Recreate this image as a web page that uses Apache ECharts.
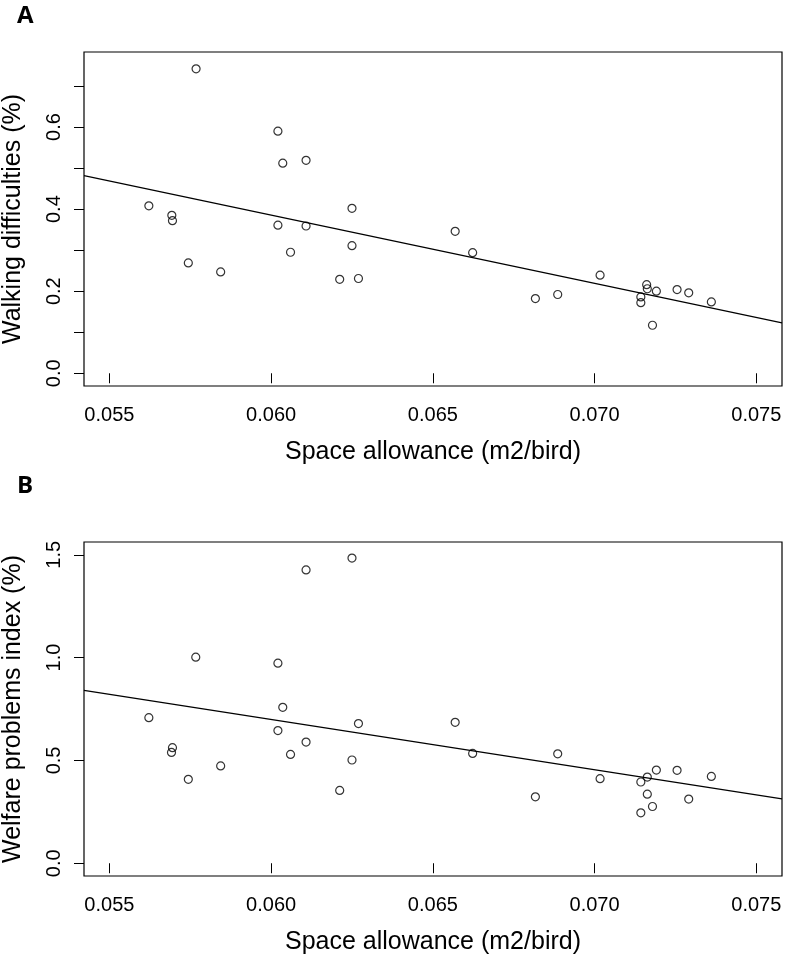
<!DOCTYPE html>
<html>
<head>
<meta charset="utf-8">
<script src="https://cdn.jsdelivr.net/npm/echarts@6/dist/echarts.min.js"></script>
<style>
html,body{margin:0;padding:0;background:#fff;}
#chart{width:786px;height:960px;}
</style>
</head>
<body>
<div id="chart"></div>
<script>
// ---- data ----
const xTicks = [0.055, 0.060, 0.065, 0.070, 0.075];
const yTicksA = [0.0, 0.1, 0.2, 0.3, 0.4, 0.5, 0.6, 0.7];
const yLabelsA = [0.0, 0.2, 0.4, 0.6];
const yTicksB = [0.0, 0.5, 1.0, 1.5];

const xA = [0.05768, 0.06021, 0.06036, 0.06108, 0.05622, 0.05693, 0.05695, 0.05744, 0.05844, 0.06021,
            0.06108, 0.06060, 0.06250, 0.06250, 0.06212, 0.06270, 0.06569, 0.06623, 0.06817, 0.06886,
            0.07017, 0.07161, 0.07163, 0.07143, 0.07143, 0.07191, 0.07179, 0.07255, 0.07291, 0.07361];
const yA = [0.742, 0.590, 0.512, 0.519, 0.408, 0.385, 0.372, 0.269, 0.247, 0.361,
            0.359, 0.295, 0.402, 0.311, 0.229, 0.231, 0.346, 0.294, 0.182, 0.192,
            0.239, 0.216, 0.206, 0.186, 0.172, 0.200, 0.117, 0.204, 0.196, 0.174];

const xB = [0.06250, 0.06108, 0.05767, 0.06021, 0.05622, 0.06036, 0.06270, 0.06021, 0.05695, 0.05692,
            0.06108, 0.06060, 0.05844, 0.05744, 0.06250, 0.06212, 0.06569, 0.06623, 0.06817, 0.06886,
            0.07017, 0.07143, 0.07163, 0.07191, 0.07255, 0.07361, 0.07163, 0.07179, 0.07143, 0.07291];
const yB = [1.484, 1.426, 1.002, 0.973, 0.708, 0.758, 0.679, 0.645, 0.562, 0.539,
            0.589, 0.529, 0.473, 0.408, 0.502, 0.354, 0.685, 0.534, 0.323, 0.532,
            0.411, 0.395, 0.419, 0.453, 0.452, 0.422, 0.336, 0.276, 0.245, 0.312];

const xRange = [0.054215, 0.075794];
const yRangeA = [-0.031, 0.783];
const yRangeB = [-0.062, 1.562];

// ---- least squares fit ----
function fit(xs, ys) {
  const n = xs.length;
  const mx = xs.reduce((a, b) => a + b, 0) / n;
  const my = ys.reduce((a, b) => a + b, 0) / n;
  let sxy = 0, sxx = 0;
  for (let i = 0; i < n; i++) { sxy += (xs[i] - mx) * (ys[i] - my); sxx += (xs[i] - mx) ** 2; }
  const b = sxy / sxx;
  return { a: my - b * mx, b };
}
const fA = fit(xA, yA), fB = fit(xB, yB);
const lineA = xRange.map(x => [x, fA.a + fA.b * x]);
const lineB = xRange.map(x => [x, fB.a + fB.b * x]);

const FONT = '"Liberation Sans", Arial, Helvetica, sans-serif';

function xAxisCfg(gridIndex) {
  return {
    type: 'value', gridIndex, min: xRange[0], max: xRange[1],
    name: 'Space allowance (m2/bird)', nameLocation: 'middle', nameGap: 54,
    nameTextStyle: { fontFamily: FONT, fontSize: 25, color: '#000' },
    axisLine: { show: false },
    axisTick: { show: true, inside: false, length: 10, customValues: xTicks, lineStyle: { color: '#000', width: 1 } },
    axisLabel: { customValues: xTicks, margin: 19, fontFamily: FONT, fontSize: 20, color: '#000',
                 formatter: v => v.toFixed(3) },
    splitLine: { show: false }
  };
}
function yAxisCfg(gridIndex, range, ticks, labels, name) {
  return {
    type: 'value', gridIndex, min: range[0], max: range[1],
    name, nameLocation: 'middle', nameGap: 58, nameRotate: 90,
    nameTextStyle: { fontFamily: FONT, fontSize: 25, color: '#000' },
    axisLine: { show: false },
    axisTick: { show: true, inside: false, length: 10, customValues: ticks, lineStyle: { color: '#000', width: 1 } },
    axisLabel: { customValues: labels, rotate: 90, margin: 20, fontFamily: FONT, fontSize: 20, color: '#000',
                 formatter: v => v.toFixed(1) },
    splitLine: { show: false }
  };
}

const pointStyle = { color: 'rgba(0,0,0,0)', borderColor: '#000', borderWidth: 1.2 };
const gridBase = { left: 84, width: 698, height: 334, show: true, borderColor: '#000', borderWidth: 1.2,
                   backgroundColor: 'transparent', containLabel: false, outerBoundsMode: 'none' };
const labelFont = { fontFamily: '"Open Sans", Arial, sans-serif', fontWeight: 'bold', fontSize: 24, color: '#000' };

const option = {
  animation: false,
  backgroundColor: '#fff',
  title: [
    { text: 'A', left: 17, top: 4, padding: 0, textStyle: labelFont },
    { text: 'B', left: 17, top: 474, padding: 0, textStyle: labelFont }
  ],
  grid: [
    Object.assign({ top: 52 }, gridBase),
    Object.assign({ top: 542 }, gridBase)
  ],
  xAxis: [xAxisCfg(0), xAxisCfg(1)],
  yAxis: [
    yAxisCfg(0, yRangeA, yTicksA, yLabelsA, 'Walking difficulties (%)'),
    yAxisCfg(1, yRangeB, yTicksB, yTicksB, 'Welfare problems index (%)')
  ],
  series: [
    { type: 'scatter', xAxisIndex: 0, yAxisIndex: 0, symbol: 'circle', symbolSize: 8, itemStyle: pointStyle,
      data: xA.map((x, i) => [x, yA[i]]) },
    { type: 'line', xAxisIndex: 0, yAxisIndex: 0, data: lineA, showSymbol: false, symbol: 'none',
      lineStyle: { color: '#000', width: 1.2 } },
    { type: 'scatter', xAxisIndex: 1, yAxisIndex: 1, symbol: 'circle', symbolSize: 8, itemStyle: pointStyle,
      data: xB.map((x, i) => [x, yB[i]]) },
    { type: 'line', xAxisIndex: 1, yAxisIndex: 1, data: lineB, showSymbol: false, symbol: 'none',
      lineStyle: { color: '#000', width: 1.2 } }
  ]
};

const chart = echarts.init(document.getElementById('chart'), null, { renderer: 'canvas' });
chart.setOption(option);
</script>
</body>
</html>
